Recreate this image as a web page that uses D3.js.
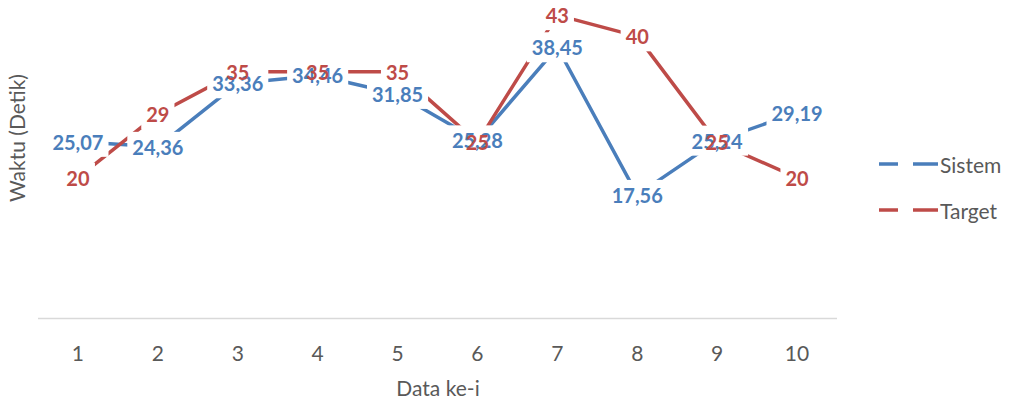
<!DOCTYPE html>
<html><head><meta charset="utf-8">
<script src="https://cdn.jsdelivr.net/npm/d3@7"></script>
<style>
html,body{margin:0;padding:0;background:#fff;}
svg{display:block;font-family:Lato,"Open Sans",sans-serif;}
</style></head>
<body><svg id="c" width="1010" height="407"></svg>
<script>
const categories = ["1","2","3","4","5","6","7","8","9","10"];
const sistem = [25.07, 24.36, 33.36, 34.46, 31.85, 25.28, 38.45, 17.56, 25.24, 29.19];
const target = [20, 29, 35, 35, 35, 25, 43, 40, 25, 20];
const sistemLabels = ["25,07","24,36","33,36","34,46","31,85","25,28","38,45","17,56","25,24","29,19"];
const targetLabels = ["20","29","35","35","35","25","43","40","25","20"];

const series = [
  {name:"Sistem", values:sistem, labels:sistemLabels, color:"#4a7ebb"},
  {name:"Target", values:target, labels:targetLabels, color:"#be4b48"}
];

const svg = d3.select("#c");
const x = d3.scaleBand().domain(categories).range([38, 837]);
const y = d3.scaleLinear().domain([0, 45]).range([319, 1]);
const cx = c => x(c) + x.bandwidth()/2;

// x axis line
svg.append("line").attr("x1",38).attr("x2",837).attr("y1",318.5).attr("y2",318.5)
  .attr("stroke","#d9d9d9").attr("stroke-width",1.5);

// tick labels
svg.append("g").selectAll("text").data(categories).join("text")
  .attr("x", d=>cx(d)).attr("y", 361).attr("text-anchor","middle")
  .attr("font-size", 21).attr("fill","#595959").text(d=>d);

// axis titles
svg.append("text").attr("x",438).attr("y",396).attr("text-anchor","middle")
  .attr("font-size",21).attr("fill","#595959").text("Data ke-i");
svg.append("text").attr("transform","translate(25,138) rotate(-90)").attr("text-anchor","middle")
  .attr("font-size",21).attr("fill","#595959").text("Waktu (Detik)");

// lines
const line = d3.line().x((d,i)=>cx(categories[i])).y(d=>y(d));
series.forEach(s=>{
  svg.append("path").attr("d", line(s.values)).attr("fill","none")
    .attr("stroke", s.color).attr("stroke-width",3.5).attr("stroke-linejoin","round");
});

// label backgrounds then texts
const lblG = svg.append("g");
const rectG = lblG.append("g");
const textG = lblG.append("g");
series.forEach(s=>{
  s.values.forEach((v,i)=>{
    const t = textG.append("text").attr("x", cx(categories[i])).attr("y", y(v))
      .attr("text-anchor","middle").attr("dominant-baseline","central")
      .attr("font-size",20).attr("font-weight","bold").attr("fill", s.color).text(s.labels[i]);
    const b = t.node().getBBox();
    rectG.append("rect").attr("x", b.x-5).attr("y", b.y-3).attr("width", b.width+10).attr("height", b.height+6)
      .attr("fill","#fff");
  });
});

// legend
const leg = svg.append("g");
series.forEach((s,i)=>{
  const ly = 164 + i*46;
  leg.append("line").attr("x1",879).attr("x2",938).attr("y1",ly).attr("y2",ly)
    .attr("stroke", s.color).attr("stroke-width",3.5).attr("stroke-dasharray","19,15,25");
  leg.append("text").attr("x",940).attr("y",ly).attr("dominant-baseline","central")
    .attr("font-size",21).attr("fill","#595959").text(s.name);
});
</script></body></html>
